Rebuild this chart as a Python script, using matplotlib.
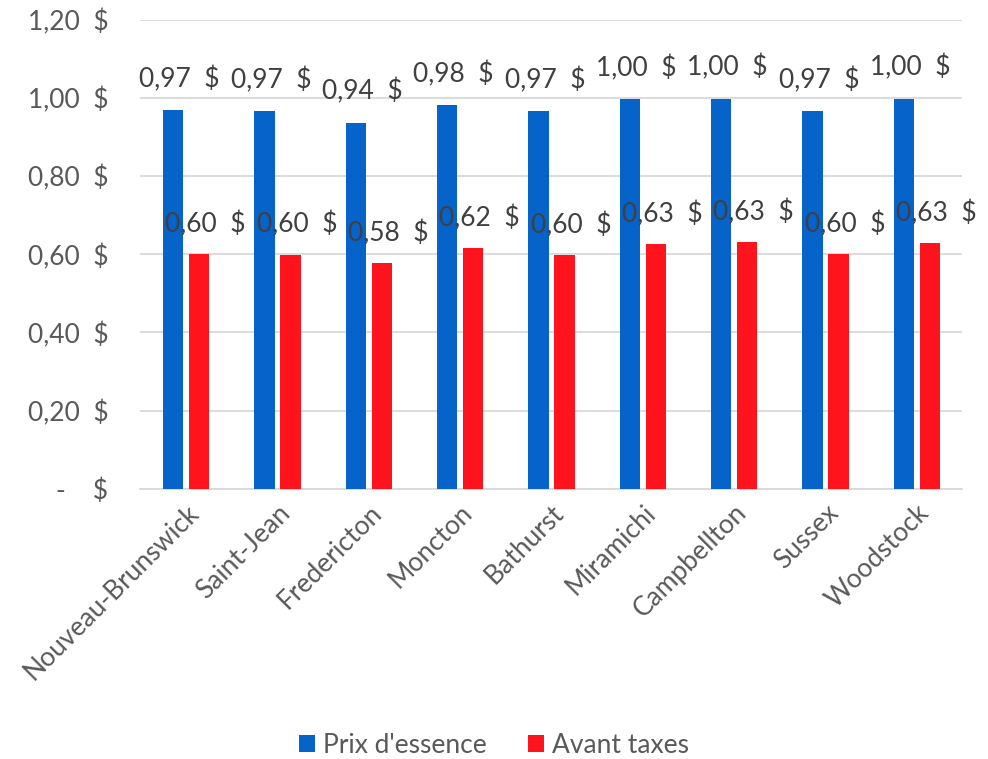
import matplotlib
matplotlib.use('Agg')
import matplotlib.pyplot as plt
import numpy as np

villes = ['Nouveau-Brunswick', 'Saint-Jean', 'Fredericton', 'Moncton', 'Bathurst',
          'Miramichi', 'Campbellton', 'Sussex', 'Woodstock']
prix = [0.969, 0.967, 0.937, 0.982, 0.967, 0.996, 0.998, 0.967, 0.998]
avant_taxes = [0.601, 0.599, 0.577, 0.616, 0.598, 0.626, 0.632, 0.601, 0.629]
yticks = [0, 0.2, 0.4, 0.6, 0.8, 1.0, 1.2]

BLUE = '#0563C9'
RED = '#FF141E'
GREY = '#595959'

plt.rcParams['font.family'] = ['Lato', 'DejaVu Sans']

def fmt(v):
    return ('%.2f  $' % v).replace('.', ',')

fig = plt.figure(figsize=(9.88, 7.59), dpi=100)
ax = fig.add_axes([0.142, 0.356, 0.832, 0.618])

x = np.arange(len(villes))
w = 0.225
b1 = ax.bar(x - 0.14, prix, w, color=BLUE, zorder=3, label="Prix d'essence")
b2 = ax.bar(x + 0.145, avant_taxes, w, color=RED, zorder=3, label='Avant taxes')

for rect, v in zip(b1, prix):
    ax.annotate(fmt(v), (rect.get_x() + rect.get_width() / 2 + 0.07, v), xytext=(0, 31),
                textcoords='offset pixels', ha='center', va='center', fontsize=19, color='#404040')
for rect, v in zip(b2, avant_taxes):
    ax.annotate(fmt(v), (rect.get_x() + rect.get_width() / 2 + 0.07, v), xytext=(0, 30),
                textcoords='offset pixels', ha='center', va='center', fontsize=19, color='#404040')

ax.set_xlim(-0.5, len(villes) - 0.5)
ax.set_ylim(0, 1.2)
ax.set_yticks(yticks)
ax.set_yticklabels(['-    $' if v == 0 else fmt(v) for v in yticks], fontsize=19, color=GREY)
ax.set_xticks(x)
ax.set_xticklabels(villes, rotation=45, ha='right', rotation_mode='anchor', fontsize=19, color=GREY)
ax.tick_params(axis='both', length=0, pad=8)
ax.tick_params(axis='y', pad=23)
ax.grid(axis='y', color='#D9D9D9', linewidth=1.3, zorder=0)
for s in ['top', 'right', 'left']:
    ax.spines[s].set_visible(False)
ax.spines['bottom'].set_color('#D9D9D9')
ax.spines['bottom'].set_linewidth(1.3)

fig.legend(loc='center', bbox_to_anchor=(0.5, 0.018), ncol=2, frameon=False, fontsize=19,
           handlelength=0.6, handleheight=0.6, columnspacing=1.6, handletextpad=0.3,
           labelcolor=GREY)

fig.savefig('out.png', dpi=100)
